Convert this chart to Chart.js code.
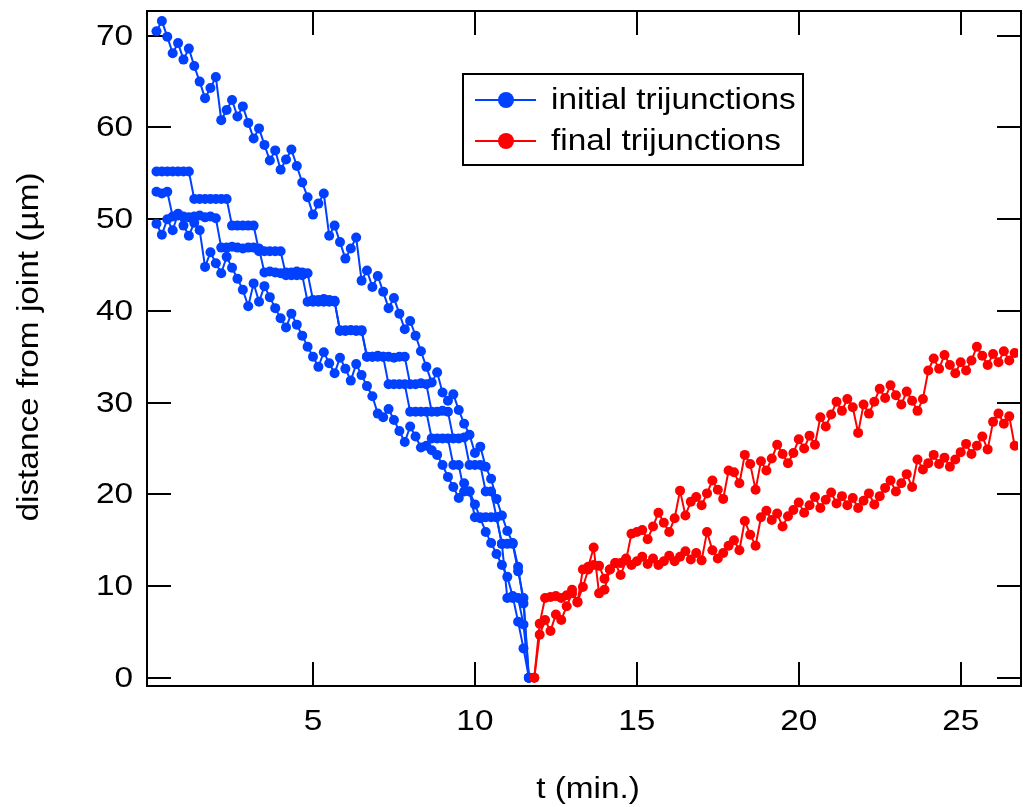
<!DOCTYPE html>
<html>
<head>
<meta charset="utf-8">
<script src="https://cdn.jsdelivr.net/npm/chart.js@4.4.0/dist/chart.umd.min.js"></script>
<style>
  html, body { margin: 0; padding: 0; background: #fff; overflow: hidden; }
  #wrap { width: 1023px; height: 807px; }
</style>
</head>
<body>
<div id="wrap"><canvas id="chart" width="1023" height="807"></canvas></div>
<script>
// sampling: one frame every 10 s (1/6 min); blue runs frames 1..70, red frames 71..160
const frameStep = 1 / 6;
const blueFirstFrame = 1;
const redFirstFrame = 71;

const xTicks = [5, 10, 15, 20, 25];
const yTicks = [0, 10, 20, 30, 40, 50, 60, 70];

const legendLabels = ['initial trijunctions', 'final trijunctions'];
const xTitle = 't (min.)';
const yTitle = 'distance from joint (\u00b5m)';

// initial trijunctions (4 tracks)
const initialA = [70.5, 71.6, 69.9, 68.1, 69.2, 67.4, 68.6, 66.7, 65.0, 63.2,
  64.3, 65.5, 60.8, 61.9, 63.0, 61.2, 62.3, 60.5, 58.8, 59.9,
  58.1, 56.4, 57.5, 55.4, 56.5, 57.6, 55.8, 54.0, 52.4, 50.5,
  51.7, 52.8, 48.2, 49.3, 47.5, 45.7, 46.8, 48.0, 43.3, 44.4,
  42.6, 43.8, 42.1, 40.3, 41.4, 39.7, 38.0, 38.9, 37.3, 35.6,
  33.9, 32.2, 33.3, 31.1, 30.2, 30.9, 29.2, 27.7, 26.5, 24.5,
  25.2, 23.0, 21.7, 19.5, 17.7, 16.0, 14.7, 12.1, 8.1, 0];

const initialB = [55.2, 55.2, 55.2, 55.2, 55.2, 55.2, 55.2, 52.2, 52.2, 52.2,
  52.2, 52.2, 52.2, 52.2, 49.3, 49.3, 49.3, 49.3, 49.3, 46.5,
  46.5, 46.5, 46.5, 46.5, 43.9, 43.9, 43.9, 43.9, 41.0, 41.0,
  41.0, 41.0, 41.0, 41.0, 37.9, 37.9, 37.9, 37.9, 37.9, 35.0,
  35.0, 35.0, 35.0, 32.0, 32.0, 32.0, 32.0, 29.0, 29.0, 29.0,
  29.0, 26.1, 26.1, 26.1, 26.1, 23.2, 23.2, 20.3, 20.3, 17.5,
  17.5, 17.5, 17.5, 17.5, 14.6, 14.6, 14.6, 11.6, 8.7, 0];

const initialC = [53.0, 52.8, 53.0, 50.3, 50.4, 50.3, 50.2, 50.3, 50.4, 50.2,
  50.3, 50.1, 46.9, 46.9, 47.0, 46.9, 46.8, 46.9, 46.9, 46.8,
  44.2, 44.3, 44.2, 44.1, 44.2, 44.2, 44.3, 44.2, 44.1, 41.2,
  41.2, 41.3, 41.2, 41.1, 37.8, 37.8, 37.9, 37.8, 37.8, 35.0,
  35.0, 35.1, 35.0, 35.0, 34.9, 35.0, 35.0, 32.0, 32.0, 32.1,
  32.0, 29.0, 29.0, 29.1, 29.0, 26.1, 26.1, 26.2, 23.2, 23.2,
  23.2, 20.3, 20.3, 17.5, 14.6, 8.7, 8.7, 8.7, 5.8, 0];

const initialD = [49.5, 48.3, 50.0, 48.8, 50.6, 49.3, 48.2, 49.6, 48.8, 44.8,
  46.4, 45.2, 44.1, 45.9, 44.7, 43.5, 42.3, 40.5, 43.0, 41.0,
  42.7, 41.5, 40.3, 39.2, 38.2, 39.7, 38.5, 37.3, 36.1, 35.0,
  33.9, 35.5, 34.3, 33.2, 34.9, 33.7, 32.4, 34.2, 33.0, 31.8,
  30.7, 28.8, 28.4, 29.3, 28.1, 26.9, 25.7, 27.4, 26.3, 25.1,
  25.3, 24.8, 24.3, 23.2, 21.9, 20.8, 19.6, 21.2, 20.3, 18.9,
  17.4, 15.9, 14.7, 13.5, 12.3, 11.0, 8.9, 6.1, 3.2, 0];

// final trijunctions (2 tracks)
const finalA = [0, 5.9, 8.7, 8.8, 8.9, 8.7, 9.0, 9.6, 8.2, 11.8,
  12.1, 14.2, 9.2, 9.6, 11.8, 12.5, 11.2, 12.8, 15.7, 15.9,
  16.1, 15.1, 16.5, 18.0, 16.9, 15.9, 17.4, 20.4, 17.7, 19.2,
  19.7, 18.8, 20.1, 21.5, 20.5, 19.5, 22.6, 22.4, 21.2, 24.3,
  23.3, 20.5, 23.6, 22.6, 23.9, 25.4, 24.4, 23.4, 24.5, 26.0,
  25.0, 26.4, 25.4, 28.4, 27.4, 28.7, 30.1, 29.1, 30.4, 29.5,
  26.7, 29.8, 28.8, 30.1, 31.5, 30.5, 31.9, 30.8, 29.8, 31.2,
  30.2, 29.1, 30.4, 33.5, 34.8, 33.7, 35.2, 34.1, 33.2, 34.4,
  33.5, 34.6, 36.1, 35.1, 34.1, 35.3, 34.4, 35.6, 34.6, 35.4];

const finalB = [0, 4.7, 6.3, 5.1, 6.9, 6.3, 7.8, 9.2, 8.3, 9.9,
  11.8, 12.3, 12.2, 10.8, 11.8, 12.5, 12.5, 13.0, 12.3, 12.7,
  13.2, 12.4, 13.0, 12.3, 12.7, 13.3, 12.7, 13.2, 13.8, 12.9,
  13.6, 12.8, 15.9, 13.9, 13.0, 13.6, 14.4, 15.0, 13.9, 17.1,
  15.6, 14.4, 17.5, 18.2, 17.2, 17.9, 16.5, 17.6, 18.3, 19.1,
  18.0, 18.8, 19.7, 18.5, 19.4, 20.2, 19.0, 19.8, 18.8, 19.6,
  18.5, 19.3, 20.1, 18.9, 19.8, 20.7, 21.5, 20.3, 21.2, 22.2,
  20.8, 23.8, 22.7, 23.4, 24.3, 23.3, 24.0, 23.0, 23.8, 24.6,
  25.5, 24.4, 25.3, 26.3, 24.9, 27.9, 28.8, 27.7, 28.5, 25.3];

const BLUE = '#0040ff';
const RED = '#ff0000';
const FONT = "29px 'Liberation Sans', Arial, sans-serif";
const TEXT_STRETCH = 1.15; // the source lettering is set wide

function toPoints(values, firstFrame) {
  return values.map((v, k) => ({ x: (firstFrame + k) * frameStep, y: v }));
}

function track(values, firstFrame, color, order) {
  return {
    data: toPoints(values, firstFrame),
    borderColor: color,
    backgroundColor: color,
    borderWidth: 2,
    pointRadius: 5,
    pointBorderWidth: 0,
    pointHoverRadius: 5,
    tension: 0,
    order: order
  };
}

// wide text helper (x is the anchor point given by align)
function wideText(ctx, text, x, y, align) {
  ctx.save();
  ctx.translate(x, y);
  ctx.scale(TEXT_STRETCH, 1);
  ctx.textAlign = align;
  ctx.textBaseline = 'middle';
  ctx.fillText(text, 0, 0);
  ctx.restore();
}

// frame + inward ticks on all four sides
const frameTicks = {
  id: 'frameTicks',
  beforeDatasetsDraw(chart) {
    const { ctx, chartArea: a, scales } = chart;
    const len = 24;
    ctx.save();
    ctx.strokeStyle = '#000';
    ctx.lineWidth = 2;
    ctx.beginPath();
    ctx.rect(a.left, a.top, a.right - a.left + 3, a.bottom - a.top);
    xTicks.forEach((v) => {
      const px = Math.round(scales.x.getPixelForValue(v));
      ctx.moveTo(px, a.bottom); ctx.lineTo(px, a.bottom - len);
      ctx.moveTo(px, a.top); ctx.lineTo(px, a.top + len);
    });
    yTicks.forEach((v) => {
      const py = Math.round(scales.y.getPixelForValue(v));
      ctx.moveTo(a.left, py); ctx.lineTo(a.left + len, py);
      ctx.moveTo(a.right + 3, py); ctx.lineTo(a.right + 3 - len, py);
    });
    ctx.stroke();

    // tick labels
    ctx.fillStyle = '#000';
    ctx.font = FONT;
    xTicks.forEach((v) => {
      wideText(ctx, String(v), scales.x.getPixelForValue(v), a.bottom + 36, 'center');
    });
    yTicks.forEach((v) => {
      wideText(ctx, String(v), a.left - 14, scales.y.getPixelForValue(v) + 1, 'right');
    });
    ctx.restore();
  }
};

const titlesLegend = {
  id: 'titlesLegend',
  afterDraw(chart) {
    const { ctx } = chart;
    ctx.save();
    ctx.fillStyle = '#000';
    ctx.font = FONT;

    // axis titles
    wideText(ctx, xTitle, 588, 790, 'center');
    ctx.save();
    ctx.translate(30, 347);
    ctx.rotate(-Math.PI / 2);
    wideText(ctx, yTitle, 0, 0, 'center');
    ctx.restore();

    // legend box
    ctx.fillStyle = '#fff';
    ctx.fillRect(463, 74, 340, 91);
    ctx.strokeStyle = '#000';
    ctx.lineWidth = 2;
    ctx.strokeRect(463, 74, 340, 91);
    const colors = [BLUE, RED];
    const rows = [100, 141];
    legendLabels.forEach((label, k) => {
      ctx.strokeStyle = colors[k];
      ctx.fillStyle = colors[k];
      ctx.beginPath();
      ctx.moveTo(475, rows[k]); ctx.lineTo(536, rows[k]);
      ctx.stroke();
      ctx.beginPath();
      ctx.arc(506, rows[k], 8, 0, Math.PI * 2);
      ctx.fill();
      ctx.fillStyle = '#000';
      wideText(ctx, label, 551, rows[k] + 1, 'left');
    });
    ctx.restore();
  }
};

new Chart(document.getElementById('chart'), {
  type: 'line',
  data: {
    datasets: [
      track(initialA, blueFirstFrame, BLUE, 2),
      track(initialB, blueFirstFrame, BLUE, 2),
      track(initialC, blueFirstFrame, BLUE, 2),
      track(initialD, blueFirstFrame, BLUE, 2),
      track(finalA, redFirstFrame, RED, 1),
      track(finalB, redFirstFrame, RED, 1)
    ]
  },
  options: {
    responsive: false,
    animation: false,
    devicePixelRatio: 1,
    layout: { padding: { left: 0, right: 0, top: 11, bottom: 0 } },
    plugins: { legend: { display: false }, tooltip: { enabled: false } },
    scales: {
      x: {
        type: 'linear',
        min: -0.126,
        max: 26.77,
        afterBuildTicks: (s) => { s.ticks = xTicks.map((v) => ({ value: v })); },
        afterFit: (s) => { s.height = 121; s.paddingLeft = 0; s.paddingRight = 0; },
        grid: { display: false, drawTicks: false },
        border: { display: false },
        ticks: { display: false }
      },
      y: {
        type: 'linear',
        min: -0.9,
        max: 72.7,
        afterBuildTicks: (s) => { s.ticks = yTicks.map((v) => ({ value: v })); },
        afterFit: (s) => { s.width = 147; s.paddingTop = 0; s.paddingBottom = 0; },
        grid: { display: false, drawTicks: false },
        border: { display: false },
        ticks: { display: false }
      }
    }
  },
  plugins: [frameTicks, titlesLegend]
});
</script>
</body>
</html>
